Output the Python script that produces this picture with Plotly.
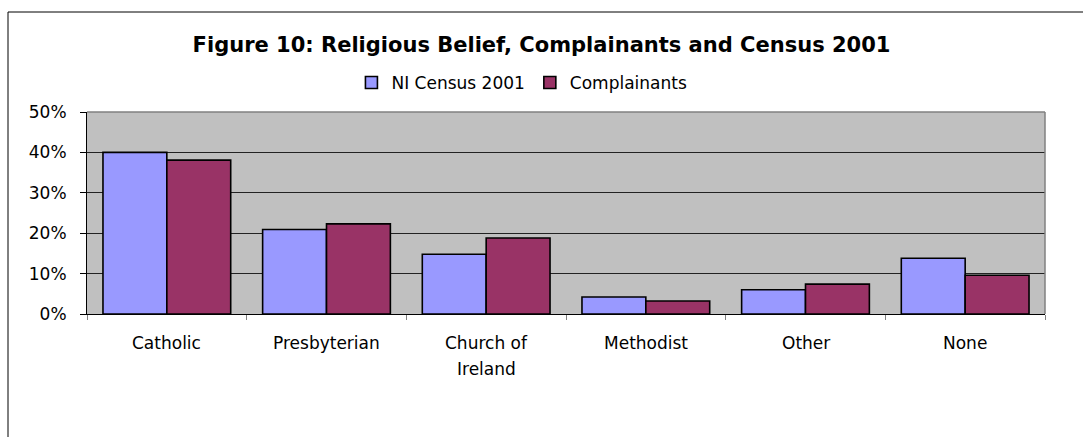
import plotly.graph_objects as go

# Religious belief shares (%), NI Census 2001 vs complainants
categories = ["Catholic", "Presbyterian", "Church of\nIreland", "Methodist", "Other", "None"]
census_2001 = [40.0, 20.9, 14.8, 4.2, 6.0, 13.8]
complainants = [38.1, 22.3, 18.8, 3.2, 7.4, 9.6]
y_ticks = [0, 10, 20, 30, 40, 50]
y_tick_labels = [f"{v}%" for v in y_ticks]

FONT = "DejaVu Sans, Liberation Sans, Arial, sans-serif"
TEXT_SIZE = 17
keys = [c.replace("\n", " ") for c in categories]

fig = go.Figure()
fig.add_trace(go.Bar(
    name="NI Census 2001", x=keys, y=census_2001,
    marker=dict(color="#9999FF", line=dict(color="#000000", width=1.6)),
))
fig.add_trace(go.Bar(
    name="Complainants", x=keys, y=complainants,
    marker=dict(color="#993366", line=dict(color="#000000", width=1.6)),
))

# category labels, one annotation per text line
annotations = []
for key, label in zip(keys, categories):
    for i, line in enumerate(label.split("\n")):
        annotations.append(dict(
            x=key, y=0, xref="x", yref="y", text=line, showarrow=False,
            yanchor="middle", yshift=-29 - 26 * i,
            font=dict(family=FONT, size=TEXT_SIZE, color="#000000"),
        ))

fig.update_layout(
    width=1083, height=437,
    margin=dict(l=87, r=38, t=112, b=123),
    paper_bgcolor="#FFFFFF", plot_bgcolor="#C0C0C0",
    font=dict(family=FONT, size=TEXT_SIZE, color="#000000"),
    title=dict(
        text="<b>Figure 10: Religious Belief, Complainants and Census 2001</b>",
        x=0.5, xref="container", xanchor="center",
        y=1 - 45 / 437, yref="container", yanchor="middle",
        font=dict(family=FONT, size=21, color="#000000"),
    ),
    barmode="group", bargap=0.2, bargroupgap=0,
    showlegend=True,
    legend=dict(
        orientation="h", x=0.454, xanchor="center", y=1.144, yanchor="middle",
        font=dict(family=FONT, size=TEXT_SIZE), bgcolor="rgba(0,0,0,0)",
        itemwidth=30, traceorder="normal",
    ),
    xaxis=dict(
        showticklabels=False, ticks="outside", tickson="boundaries",
        ticklen=5, tickcolor="#808080", showline=True, linecolor="#000000",
        linewidth=1, showgrid=False, zeroline=False,
    ),
    yaxis=dict(
        range=[0, 50], tickvals=y_ticks, ticktext=y_tick_labels,
        ticks="outside", ticklen=6, tickcolor="#000000",
        showline=True, linecolor="#000000", linewidth=1,
        showgrid=True, gridcolor="#222222", gridwidth=1, zeroline=False,
        tickfont=dict(family=FONT, size=TEXT_SIZE), ticklabelstandoff=10,
    ),
    annotations=annotations,
    shapes=[
        # chart frame
        dict(type="rect", xref="paper", yref="paper",
             x0=(8 - 87) / 958, x1=1.2, y0=-1.0, y1=(314 - 12) / 202,
             line=dict(color="#000000", width=1), fillcolor="rgba(0,0,0,0)", layer="below"),
        # plot area right and top edges
        dict(type="line", xref="paper", yref="paper", x0=1, x1=1, y0=0, y1=1,
             line=dict(color="#808080", width=1.5)),
        dict(type="line", xref="paper", yref="paper", x0=0, x1=1, y0=1, y1=1,
             line=dict(color="#808080", width=1.5)),
    ],
)

fig.write_html("out.html")
